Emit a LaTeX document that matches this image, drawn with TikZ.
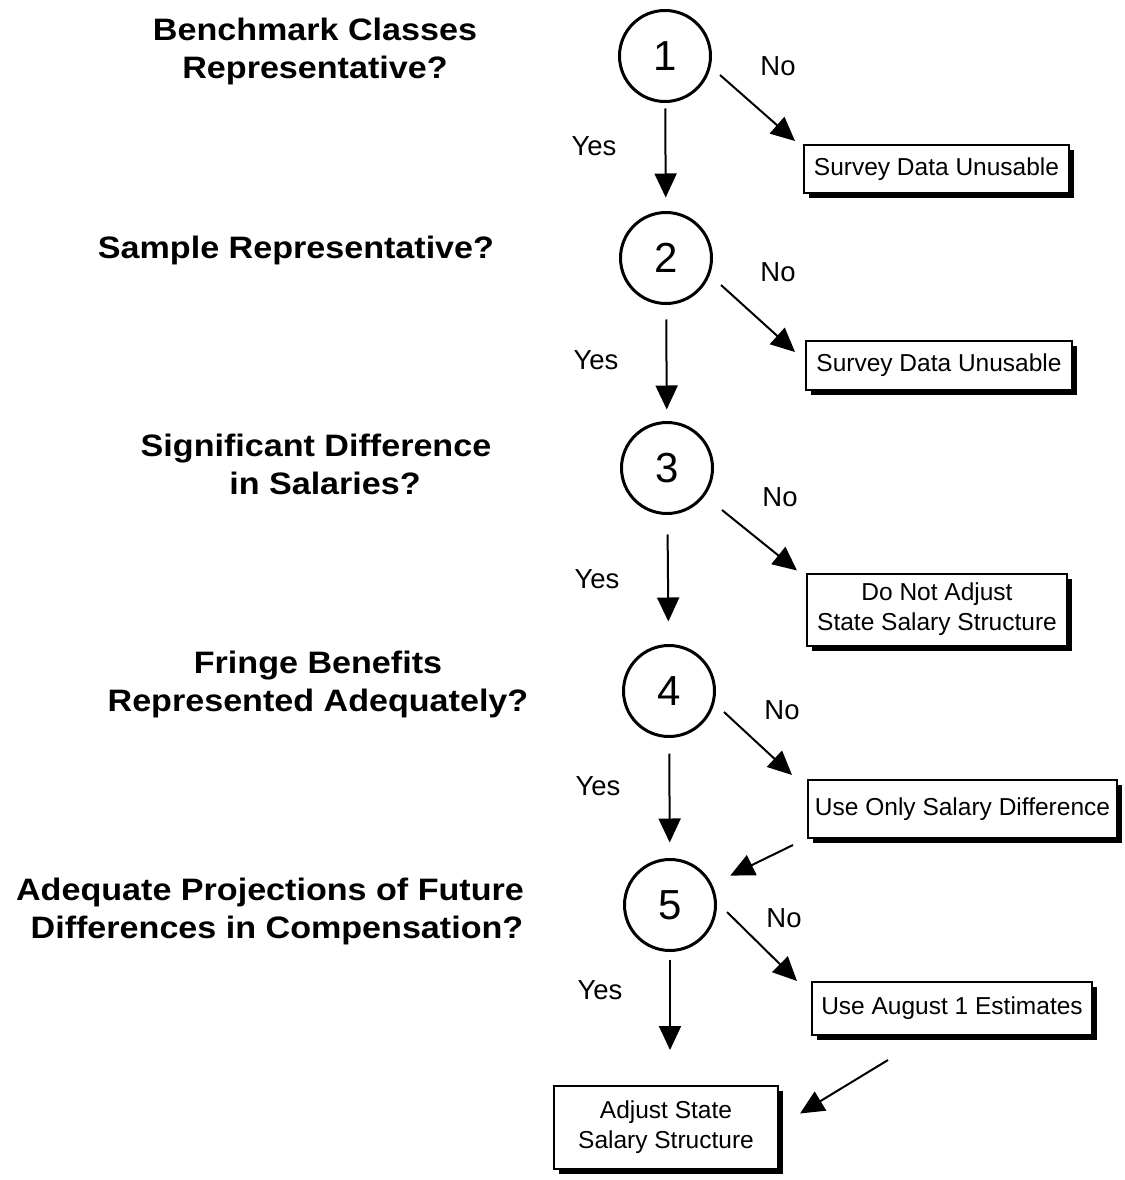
\documentclass[tikz,border=0pt]{standalone}
\usepackage{fontspec}
\setmainfont{Liberation Sans}
\newfontface\titlefont{Liberation Sans Bold}[FakeStretch=1.1]
\usetikzlibrary{arrows.meta,shadows,calc}
\begin{document}
\begin{tikzpicture}[x=1pt,y=-1pt,
  circ/.style={circle, draw, line width=3pt, minimum size=91pt, inner sep=0pt,
    font=\fontsize{42}{42}\selectfont},
  box/.style={rectangle, draw, line width=2pt, fill=white, align=center, inner sep=0pt,
    font=\fontsize{24.5}{30}\selectfont,
    drop shadow={shadow xshift=5pt, shadow yshift=-5pt, opacity=1, fill=black}},
  title/.style={align=center, inner sep=0pt, font=\titlefont\fontsize{31}{38}\selectfont},
  lbl/.style={inner sep=0pt, font=\fontsize{27.5}{30}\selectfont},
  arr/.style={line width=2pt, -{Triangle[length=24pt,width=22pt]}}
]
\path[use as bounding box] (0,0) rectangle (1124,1180);

% titles
\node[title] (t1) at (315,51) {Benchmark Classes\\Representative?};
\node[title] (t2) at (296,250) {Sample Representative?};
\node[title] (t3) at (316,464) {Significant Difference\\\hspace*{18pt}in Salaries?};
\node[title] (t4) at (318,684) {Fringe Benefits\\Represented Adequately?};
\node[title] (t5) at (270,911) {Adequate Projections of Future\\\hspace*{14pt}Differences in Compensation?};

% circles
\node[circ] (c1) at (665,56) {1};
\node[circ] (c2) at (666,258) {2};
\node[circ] (c3) at (667,468) {3};
\node[circ] (c4) at (669,691) {4};
\node[circ] (c5) at (670,905) {5};

% boxes
\node[box, minimum width=265pt, minimum height=48pt] (b1) at (936.5,169) {Survey Data Unusable};
\node[box, minimum width=266pt, minimum height=49pt] (b2) at (939,365.5) {Survey Data Unusable};
\node[box, minimum width=260pt, minimum height=72pt] (b3) at (937,609.5) {Do Not Adjust\\State Salary Structure};
\node[box, minimum width=309pt, minimum height=58pt] (b4) at (962.5,809) {Use Only Salary Difference};
\node[box, minimum width=280pt, minimum height=53pt] (b5) at (952,1008.5) {Use August 1 Estimates};
\node[box, minimum width=224pt, minimum height=83pt] (b6) at (666,1127.5) {Adjust State\\Salary Structure};

% labels
\node[lbl] (y1) at (594,146) {Yes};
\node[lbl] (y2) at (596,360) {Yes};
\node[lbl] (y3) at (597,579) {Yes};
\node[lbl] (y4) at (598,786) {Yes};
\node[lbl] (y5) at (600,990) {Yes};
\node[lbl] (n1) at (778,66) {No};
\node[lbl] (n2) at (778,272) {No};
\node[lbl] (n3) at (780,497) {No};
\node[lbl] (n4) at (782,710) {No};
\node[lbl] (n5) at (784,918) {No};

% vertical yes arrows
\draw[arr, shorten <=5.5pt, shorten >=13.5pt] (c1) -- (c2);
\draw[arr, shorten <=14.5pt, shorten >=11.5pt] (c2) -- (c3);
\draw[arr, shorten <=19.5pt, shorten >=22.5pt] (c3) -- (c4);
\draw[arr, shorten <=15.5pt, shorten >=15.5pt] (c4) -- (c5);
\draw[arr, shorten <=7.5pt, shorten >=35pt] (c5) -- (c5 |- b6.north);

% no arrows
\coordinate (s1) at (720,75);
\coordinate (s2) at (721,285);
\coordinate (s3) at (722,510);
\coordinate (s4) at (724,712);
\coordinate (s5) at (727,912);
\draw[arr] (s1) -- ([xshift=-8pt,yshift=3pt]b1.north west);
\draw[arr] (s2) -- ([xshift=-10pt,yshift=-12pt]b2.north west);
\draw[arr] (s3) -- ([xshift=-9pt,yshift=2pt]b3.north west);
\draw[arr] (s4) -- ([xshift=-15pt,yshift=4pt]b4.north west);
\draw[arr] (s5) -- ([xshift=-14pt,yshift=0pt]b5.north west);

% return arrows
\draw[arr, shorten >=20pt] ([xshift=-14pt,yshift=-6pt]b4.south west) -- (c5);
\draw[arr] ([xshift=-64pt,yshift=-24pt]b5.south) -- ([xshift=21pt,yshift=14pt]b6.east);
\end{tikzpicture}
\end{document}
